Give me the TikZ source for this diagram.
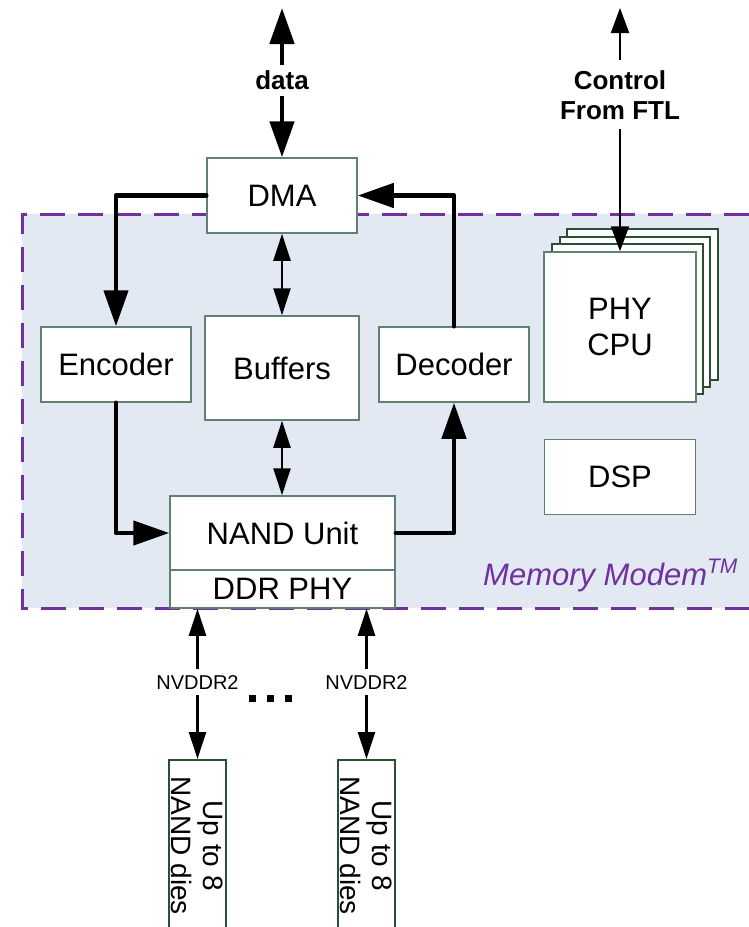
\documentclass[tikz,border=0pt]{standalone}
\usepackage{fontspec}
\setmainfont{Liberation Sans}
\usetikzlibrary{arrows.meta}
\definecolor{bgfill}{RGB}{227,233,242}
\definecolor{mmpurple}{RGB}{112,48,160}
\definecolor{boxline}{RGB}{96,128,112}
\definecolor{darkbox}{RGB}{40,80,50}
\begin{document}
\begin{tikzpicture}[x=1pt,y=-1pt,
  blk/.style={draw=boxline, line width=1.5pt, fill=white, inner sep=0pt,
    font=\fontsize{31}{36}\selectfont, align=center},
  backblk/.style={blk, draw=darkbox, line width=1.3pt},
  thickarrow/.style={line width=4.5pt, line cap=round, line join=round,
    -{Triangle[length=36pt,width=24pt]}},
  dblthick/.style={line width=4.8pt,
    {Triangle[length=36pt,width=24pt]}-{Triangle[length=36pt,width=24pt]}},
  dblthin/.style={line width=2.5pt,
    {Triangle[length=27pt,width=17pt]}-{Triangle[length=27pt,width=17pt]}},
  ctlarrow/.style={line width=2pt,
    {Triangle[length=25pt,width=18pt]}-{Triangle[length=25pt,width=18pt]}},
  lbl/.style={fill=white, inner sep=6pt, align=center,
    font=\fontsize{26}{30}\selectfont\bfseries},
  smalllbl/.style={fill=white, inner xsep=1pt, inner ysep=6pt,
    font=\fontsize{20}{24}\selectfont}
]
\useasboundingbox (0,0) rectangle (749,927);

% Memory Modem region
\fill[bgfill] (22,214) rectangle (749,608);
\draw[mmpurple, line width=3pt, dash pattern=on 25pt off 13pt]
  (749,214) -- (22,214) -- (22,608) -- (749,608);
\node[anchor=base west, text=mmpurple, inner sep=0pt,
  font=\fontsize{31}{36}\selectfont\itshape] (mm) at (483,585)
  {Memory Modem\raisebox{12pt}{\fontsize{21}{21}\selectfont TM}};

% blocks
\node[blk, minimum width=150pt, minimum height=75pt] (dma) at (282,195.5) {DMA};
\node[blk, minimum width=150pt, minimum height=75pt] (enc) at (116,364.5) {Encoder};
\node[blk, minimum width=154pt, minimum height=104pt] (buf) at (282,368) {Buffers};
\node[blk, minimum width=150pt, minimum height=75pt] (dec) at (454,364.5) {Decoder};
\node[blk, minimum width=225pt, minimum height=74pt] (nand) at (282.5,533) {NAND Unit};
\node[blk, minimum width=225pt, minimum height=38pt] (ddr) at (282.5,589) {DDR PHY};

% stacked PHY CPU
\node[backblk, minimum width=151pt, minimum height=151pt] (cpu4) at (642.5,304.5) {};
\node[backblk, minimum width=150pt, minimum height=150pt] (cpu3) at (635,312) {};
\node[backblk, minimum width=151pt, minimum height=150pt] (cpu2) at (627.5,319) {};
\node[blk, minimum width=152pt, minimum height=150pt] (cpu) at (620,327) {PHY\\CPU};
\node[blk, minimum width=151pt, minimum height=75pt] (dsp) at (620,477) {DSP};

% NAND dies
\node[blk, draw=darkbox, rotate=-90, anchor=west, minimum width=172pt,
  minimum height=57pt, font=\fontsize{28}{32}\selectfont] (die1) at (197.5,759)
  {Up to 8\\NAND dies};
\node[blk, draw=darkbox, rotate=-90, anchor=west, minimum width=172pt,
  minimum height=57pt, font=\fontsize{28}{32}\selectfont] (die2) at (366.5,759)
  {Up to 8\\NAND dies};

% external connectors
\coordinate (datatop) at (282,8);
\coordinate (ctltop) at (620,8);
\draw[dblthick] (datatop) -- node[lbl, pos=0.487] (datalbl) {data} (dma.north);
\draw[ctlarrow] (ctltop) -- node[lbl, inner sep=10pt, pos=0.357] (ctllbl) {Control\\From FTL} (cpu.north);

% data path
\draw[thickarrow] (dma.west) -| (enc.north);
\draw[thickarrow] (dec.north) |- (dma.east);
\draw[thickarrow] (enc.south) |- (nand.west);
\draw[thickarrow] (nand.east) -| (dec.south);
\draw[dblthin] (dma.south) -- (buf.north);
\draw[dblthin] (buf.south) -- (buf.south |- nand.north);

% NAND interfaces
\draw[dblthin] (ddr.south -| die1.west) -- node[smalllbl, pos=0.49] (nv1) {NVDDR2} (die1.west);
\draw[dblthin] (ddr.south -| die2.west) -- node[smalllbl, pos=0.49] (nv2) {NVDDR2} (die2.west);
\fill (249,695) rectangle +(7,7);
\fill (267,695) rectangle +(7,7);
\fill (285,695) rectangle +(7,7);
\end{tikzpicture}
\end{document}
